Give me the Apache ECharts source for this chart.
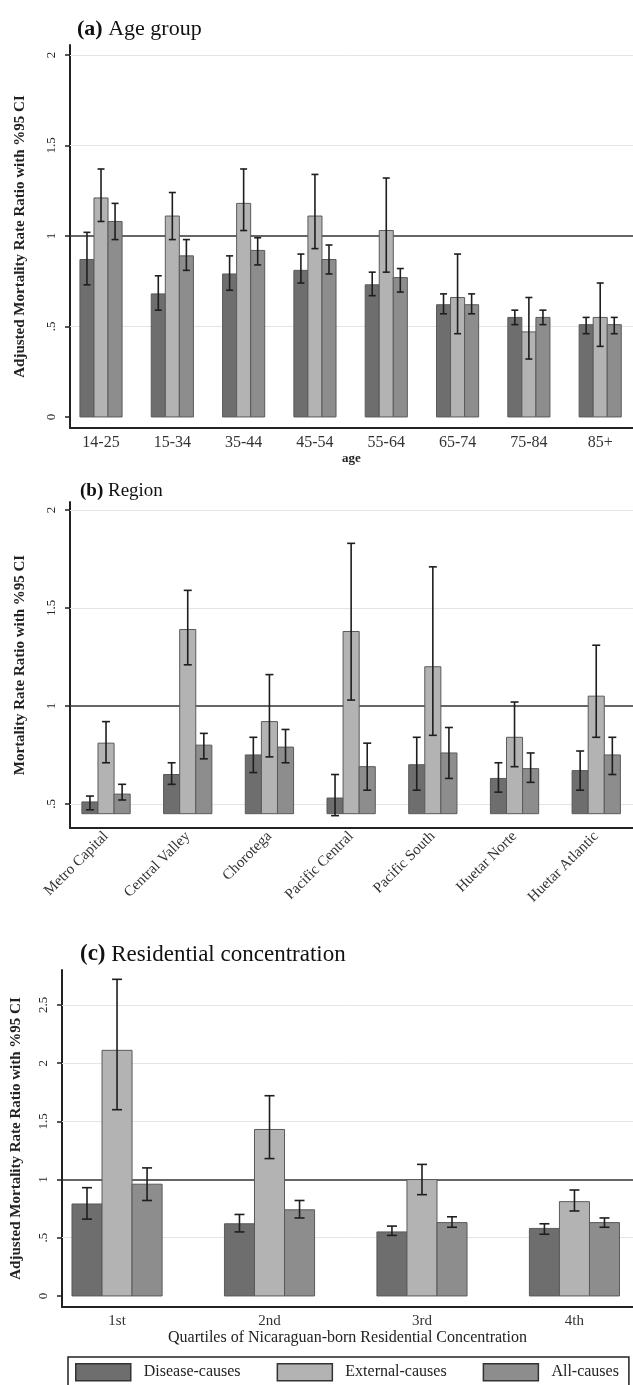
<!DOCTYPE html>
<html>
<head>
<meta charset="utf-8">
<script src="https://cdn.jsdelivr.net/npm/echarts@6/dist/echarts.min.js"></script>
<style>
html,body{margin:0;padding:0;background:#fff;}
#chart{width:633px;height:1385px;}
</style>
</head>
<body>
<div id="chart"></div>
<script>
// ---------- DATA ----------
const seriesNames = ['Disease-causes', 'External-causes', 'All-causes'];

// (a) Age group
const ageCats = ['14-25', '15-34', '35-44', '45-54', '55-64', '65-74', '75-84', '85+'];
const ageDisease   = [0.87, 0.68, 0.79, 0.81, 0.73, 0.62, 0.55, 0.51];
const ageDiseaseLo = [0.73, 0.59, 0.70, 0.74, 0.67, 0.57, 0.51, 0.46];
const ageDiseaseHi = [1.02, 0.78, 0.89, 0.90, 0.80, 0.68, 0.59, 0.55];
const ageExternal   = [1.21, 1.11, 1.18, 1.11, 1.03, 0.66, 0.47, 0.55];
const ageExternalLo = [1.08, 0.98, 1.03, 0.93, 0.80, 0.46, 0.32, 0.39];
const ageExternalHi = [1.37, 1.24, 1.37, 1.34, 1.32, 0.90, 0.66, 0.74];
const ageAll   = [1.08, 0.89, 0.92, 0.87, 0.77, 0.62, 0.55, 0.51];
const ageAllLo = [0.98, 0.81, 0.84, 0.79, 0.69, 0.57, 0.51, 0.46];
const ageAllHi = [1.18, 0.98, 0.99, 0.95, 0.82, 0.68, 0.59, 0.55];

// (b) Region
const regionCats = ['Metro Capital', 'Central Valley', 'Chorotega', 'Pacific Central', 'Pacific South', 'Huetar Norte', 'Huetar Atlantic'];
const regDisease   = [0.51, 0.65, 0.75, 0.53, 0.70, 0.63, 0.67];
const regDiseaseLo = [0.47, 0.60, 0.66, 0.44, 0.57, 0.56, 0.57];
const regDiseaseHi = [0.54, 0.71, 0.84, 0.65, 0.84, 0.71, 0.77];
const regExternal   = [0.81, 1.39, 0.92, 1.38, 1.20, 0.84, 1.05];
const regExternalLo = [0.71, 1.21, 0.74, 1.03, 0.85, 0.69, 0.84];
const regExternalHi = [0.92, 1.59, 1.16, 1.83, 1.71, 1.02, 1.31];
const regAll   = [0.55, 0.80, 0.79, 0.69, 0.76, 0.68, 0.75];
const regAllLo = [0.52, 0.73, 0.71, 0.57, 0.63, 0.61, 0.65];
const regAllHi = [0.60, 0.86, 0.88, 0.81, 0.89, 0.76, 0.84];

// (c) Residential concentration
const quartCats = ['1st', '2nd', '3rd', '4th'];
const qDisease   = [0.79, 0.62, 0.55, 0.58];
const qDiseaseLo = [0.66, 0.55, 0.52, 0.53];
const qDiseaseHi = [0.93, 0.70, 0.60, 0.62];
const qExternal   = [2.11, 1.43, 1.00, 0.81];
const qExternalLo = [1.60, 1.18, 0.87, 0.73];
const qExternalHi = [2.72, 1.72, 1.13, 0.91];
const qAll   = [0.96, 0.74, 0.63, 0.63];
const qAllLo = [0.82, 0.67, 0.59, 0.59];
const qAllHi = [1.10, 0.82, 0.68, 0.67];

const ageTicks = [0, 0.5, 1, 1.5, 2];
const regionTicks = [0.5, 1, 1.5, 2];
const quartTicks = [0, 0.5, 1, 1.5, 2, 2.5];

// ---------- STYLE ----------
const FONT = '"Liberation Serif", "DejaVu Serif", serif';
const colors = ['#6e6e6e', '#b3b3b3', '#8d8d8d'];
const BARW = 0.197;

function fmtTick(v) {
  if (v === 0) return '0';
  return String(v).replace(/^0\./, '.');
}
function rows(vals, lo, hi) {
  return vals.map((v, i) => [i + 1, v, lo[i], hi[i]]);
}
function makeRender(k, base, capHalf) {
  return function (params, api) {
    const x = api.value(0), v = api.value(1), lo = api.value(2), hi = api.value(3);
    const bw = api.size([BARW, 0])[0];
    const top = api.coord([x, v]);
    const bot = api.coord([x, base]);
    const cx = top[0] + (k - 1) * bw;
    const pl = api.coord([x, lo]), ph = api.coord([x, hi]);
    const ls = { stroke: '#1e1e1e', lineWidth: 1.6 };
    return {
      type: 'group',
      children: [
        { type: 'rect', shape: { x: cx - bw / 2, y: top[1], width: bw, height: bot[1] - top[1] },
          style: { fill: colors[k], stroke: '#5a5a5a', lineWidth: 1 } },
        { type: 'line', shape: { x1: cx, y1: ph[1], x2: cx, y2: pl[1] }, style: ls },
        { type: 'line', shape: { x1: cx - capHalf, y1: ph[1], x2: cx + capHalf, y2: ph[1] }, style: ls },
        { type: 'line', shape: { x1: cx - capHalf, y1: pl[1], x2: cx + capHalf, y2: pl[1] }, style: ls }
      ]
    };
  };
}
function refLines(ticks) {
  const d = ticks.filter(t => t !== 0 && t !== 1).map(t => ({ yAxis: t, lineStyle: { color: '#e4e4e4', width: 1, type: 'solid' } }));
  d.push({ yAxis: 1, lineStyle: { color: '#333', width: 1.6, type: 'solid' } });
  return { silent: true, symbol: 'none', z: 1, label: { show: false }, data: d };
}
function panelSeries(idx, sets, base, capHalf, ticks) {
  return sets.map((s, k) => {
    const o = {
      type: 'custom', name: seriesNames[k], xAxisIndex: idx, yAxisIndex: idx, z: 3,
      itemStyle: { color: colors[k] },
      renderItem: makeRender(k, base, capHalf),
      encode: { x: 0, y: [1, 2, 3] },
      data: s
    };
    if (k === 0) o.markLine = refLines(ticks);
    return o;
  });
}
const axisLineStyle = { show: true, onZero: false, lineStyle: { color: '#222', width: 2 } };

function yAxisCfg(idx, min, max, ticks, name, gap) {
  return {
    type: 'value', gridIndex: idx, min: min, max: max,
    axisLine: axisLineStyle,
    axisTick: { show: true, length: 5, customValues: ticks, lineStyle: { color: '#222', width: 1.5 } },
    axisLabel: { customValues: ticks, rotate: 90, margin: 12, fontFamily: FONT, fontSize: 13, color: '#222', formatter: fmtTick },
    splitLine: { show: false },
    name: name, nameLocation: 'middle', nameGap: gap,
    nameTextStyle: { fontFamily: FONT, fontWeight: 'bold', fontSize: 15, color: '#222' }
  };
}
function xAxisCfg(idx, min, max, cats, labelOpts, name, nameGap, nameStyle) {
  const n = cats.map((c, i) => i + 1);
  return Object.assign({
    type: 'value', gridIndex: idx, min: min, max: max,
    axisLine: axisLineStyle,
    axisTick: { show: false },
    splitLine: { show: false },
    axisLabel: Object.assign({ customValues: n, fontFamily: FONT, color: '#333',
      formatter: v => cats[Math.round(v) - 1] }, labelOpts)
  }, name ? { name: name, nameLocation: 'middle', nameGap: nameGap, nameTextStyle: nameStyle } : {});
}

const option = {
  backgroundColor: '#fff',
  animation: false,
  title: [
    { text: '{b|(a)} Age group', left: 72, top: 13,
      textStyle: { fontFamily: FONT, fontSize: 22, fontWeight: 'normal', color: '#111', rich: { b: { fontFamily: FONT, fontSize: 22, fontWeight: 'bold', color: '#111' } } } },
    { text: '{b|(b)} Region', left: 75, top: 477,
      textStyle: { fontFamily: FONT, fontSize: 19, fontWeight: 'normal', color: '#111', rich: { b: { fontFamily: FONT, fontSize: 19, fontWeight: 'bold', color: '#111' } } } },
    { text: '{b|(c)} Residential concentration', left: 75, top: 938,
      textStyle: { fontFamily: FONT, fontSize: 23, fontWeight: 'normal', color: '#111', rich: { b: { fontFamily: FONT, fontSize: 23, fontWeight: 'bold', color: '#111' } } } }
  ],
  legend: {
    left: 68, top: 1357,
    padding: [6, 10, 12, 7],
    borderColor: '#222', borderWidth: 1.5,
    itemWidth: 55, itemHeight: 17, itemGap: 36,
    icon: 'rect',
    itemStyle: { borderColor: '#333', borderWidth: 1.5 },
    textStyle: { fontFamily: FONT, fontSize: 16, color: '#222', padding: [0, 0, 0, 8] },
    data: seriesNames
  },
  grid: [
    { left: 70, right: 0, top: 45, height: 383 },
    { left: 70, right: 0, top: 502, height: 326 },
    { left: 62, right: 0, top: 970, height: 337 }
  ],
  xAxis: [
    xAxisCfg(0, 0.565, 8.46, ageCats, { fontSize: 16, margin: 7 }, 'age', 23,
      { fontFamily: FONT, fontWeight: 'bold', fontSize: 13, color: '#222' }),
    xAxisCfg(1, 0.559, 7.45, regionCats, { fontSize: 15, margin: 6, rotate: 45 }),
    xAxisCfg(2, 0.639, 4.384, quartCats, { fontSize: 15, margin: 7 },
      'Quartiles of Nicaraguan-born Residential Concentration', 21,
      { fontFamily: FONT, fontSize: 16, color: '#222' })
  ],
  yAxis: [
    yAxisCfg(0, -0.061, 2.055, ageTicks, 'Adjusted Mortality Rate Ratio with %95 CI', 42),
    yAxisCfg(1, 0.377, 2.041, regionTicks, 'Mortality Rate Ratio with %95 CI', 42),
    yAxisCfg(2, -0.095, 2.80, quartTicks, 'Adjusted Mortality Rate Ratio with %95 CI', 38)
  ],
  series: [].concat(
    panelSeries(0, [rows(ageDisease, ageDiseaseLo, ageDiseaseHi), rows(ageExternal, ageExternalLo, ageExternalHi), rows(ageAll, ageAllLo, ageAllHi)], 0, 3.5, ageTicks),
    panelSeries(1, [rows(regDisease, regDiseaseLo, regDiseaseHi), rows(regExternal, regExternalLo, regExternalHi), rows(regAll, regAllLo, regAllHi)], 0.45, 4, regionTicks),
    panelSeries(2, [rows(qDisease, qDiseaseLo, qDiseaseHi), rows(qExternal, qExternalLo, qExternalHi), rows(qAll, qAllLo, qAllHi)], 0, 5, quartTicks)
  )
};

const chart = echarts.init(document.getElementById('chart'), null, { renderer: 'canvas' });
chart.setOption(option);
</script>
</body>
</html>
